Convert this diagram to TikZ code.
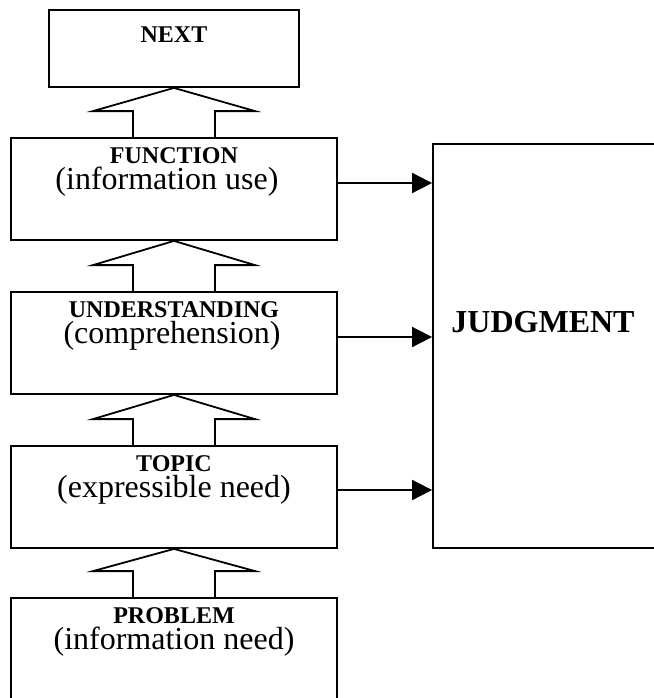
\documentclass[tikz,border=0pt]{standalone}
\usepackage{fontspec}
\setmainfont{Liberation Serif}
\usepackage{tikz}
\usetikzlibrary{arrows.meta}
\usetikzlibrary{positioning,calc}

\begin{document}
\begin{tikzpicture}[x=0.5pt,y=-0.5pt,
	stage/.style={draw,line width=0.9pt,inner sep=0pt,minimum width=163pt,minimum height=51pt},
	title/.style={inner sep=0pt,anchor=base,font=\bfseries\fontsize{12}{14}\selectfont},
	sub/.style={inner sep=0pt,anchor=base,font=\fontsize{16}{19}\selectfont},
	hollow/.style={line width=0.9pt},
	link/.style={line width=0.9pt,-{Triangle[length=10pt,width=10pt]}}]
	\useasboundingbox (0,0) rectangle (654,698);
	\clip (0,0) rectangle (654,698);
	% boxes
	\node [stage,minimum width=125pt,minimum height=38.5pt] (next) at (174,48.5) {};
	\node [stage] (function) at (174,189) {};
	\node [stage] (understanding) at (174,343) {};
	\node [stage] (topic) at (174,497) {};
	\node [stage] (problem) at (174,649) {};
	\node [stage,minimum width=111.5pt,minimum height=202pt] (judgment) at (544.5,346) {};
	% texts
	\node [title] (nexttitle) at ([yshift=-16.5pt]next.north) {NEXT};
	\node [title] (functiontitle) at ([yshift=-13pt]function.north) {FUNCTION};
	\node [sub] (functionsub) at ([xshift=-3.5pt,yshift=-26pt]function.north) {(information use)};
	\node [title] (understandingtitle) at ([yshift=-13pt]understanding.north) {UNDERSTANDING};
	\node [sub] (understandingsub) at ([xshift=-1pt,yshift=-26pt]understanding.north) {(comprehension)};
	\node [title] (topictitle) at ([yshift=-13pt]topic.north) {TOPIC};
	\node [sub] (topicsub) at ([yshift=-26pt]topic.north) {(expressible need)};
	\node [title] (problemtitle) at ([yshift=-13pt]problem.north) {PROBLEM};
	\node [sub] (problemsub) at ([yshift=-26pt]problem.north) {(information need)};
	\node [sub,font=\bfseries\fontsize{16}{19}\selectfont] (judgmenttitle) at ([xshift=-0.75pt,yshift=-94.5pt]judgment.north) {JUDGMENT};
	% hollow arrows between stages
	\draw [hollow] ($(function.north)+(-41,0)$) -- ++(0,-26) -- ++(-40,0) -- (next.south) -- ($(function.north)+(81,-26)$) -- ++(-40,0) -- ++(0,26);
	\draw [hollow] ($(understanding.north)+(-41,0)$) -- ++(0,-26) -- ++(-40,0) -- (function.south) -- ($(understanding.north)+(81,-26)$) -- ++(-40,0) -- ++(0,26);
	\draw [hollow] ($(topic.north)+(-41,0)$) -- ++(0,-26) -- ++(-40,0) -- (understanding.south) -- ($(topic.north)+(81,-26)$) -- ++(-40,0) -- ++(0,26);
	\draw [hollow] ($(problem.north)+(-41,0)$) -- ++(0,-26) -- ++(-40,0) -- (topic.south) -- ($(problem.north)+(81,-26)$) -- ++(-40,0) -- ++(0,26);
	% arrows to judgment
	\draw [link] ([yshift=3pt]function.east) -- ([yshift=3pt]function.east -| judgment.west);
	\draw [link] ([yshift=3pt]understanding.east) -- ([yshift=3pt]understanding.east -| judgment.west);
	\draw [link] ([yshift=3.5pt]topic.east) -- ([yshift=3.5pt]topic.east -| judgment.west);
\end{tikzpicture}
\end{document}
